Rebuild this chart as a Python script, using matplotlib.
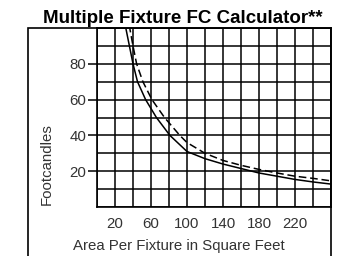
import matplotlib
matplotlib.use("Agg")
import matplotlib.pyplot as plt
from matplotlib.patches import Rectangle

# values
area_solid = [30, 32, 36, 40, 45, 54, 66, 81, 100, 120, 140, 160, 180, 200, 220, 240, 260]
fc_solid = [106, 100, 90, 80, 70, 60, 50, 40, 31, 27, 24, 21.5, 19, 17.2, 15.4, 14, 12.8]

area_dash = [33, 36, 40, 44, 51, 61, 75, 92, 100, 120, 140, 160, 180, 200, 220, 240, 260]
fc_dash = [108, 101, 90, 80, 70, 60, 50, 40, 36, 30, 26, 23.3, 21, 19, 17.2, 16, 14.6]

x_labels = [20, 60, 100, 140, 180, 220]
y_labels = [20, 40, 60, 80]

plt.rcParams['font.family'] = ['Liberation Sans', 'DejaVu Sans']
txt = '#333333'

fig = plt.figure(figsize=(3.38, 2.56), dpi=100)
ax = fig.add_axes([97/338, 1 - 207/256, 234/338, 179/256])

ax.plot(area_solid, fc_solid, color='black', lw=1.1)
ax.plot(area_dash, fc_dash, color='black', lw=1.1, dashes=(5, 2.5))

ax.set_xlim(0, 260)
ax.set_ylim(0, 100)

ax.set_xticks(x_labels)
ax.set_xticks(range(0, 261, 20), minor=True)
ax.set_yticks(y_labels)
ax.set_yticks(range(0, 101, 10), minor=True)
ax.grid(which='both', color='black', lw=1.1)
ax.tick_params(axis='x', which='both', length=0, pad=7, labelsize=10.8, labelcolor=txt)
ax.tick_params(axis='y', which='major', length=6.5, width=1.1, pad=1, labelsize=10.8, labelcolor=txt)
ax.tick_params(axis='y', which='minor', length=0)
for s in ax.spines.values():
    s.set_linewidth(1.2)

ax.set_xlabel('Area Per Fixture in Square Feet', fontsize=10.8, color=txt)
ax.xaxis.set_label_coords(0.348, -0.218)
ax.xaxis.label.set_va('center')
ax.set_ylabel('Footcandles', fontsize=10.8, color=txt)
ax.yaxis.set_label_coords(-0.214, 0.24)
ax.yaxis.label.set_va('center')

# outer frame
fig.patches.append(Rectangle((27.5/338, -0.05), 303.5/338, 1 - 28/256 + 0.05,
                             transform=fig.transFigure, fill=False,
                             edgecolor='black', lw=1.2))

fig.text(183/338, 1 - 23/256, 'Multiple Fixture FC Calculator**', ha='center', va='baseline',
         fontsize=13.5, fontweight='bold')

fig.savefig('out.png', dpi=100)
